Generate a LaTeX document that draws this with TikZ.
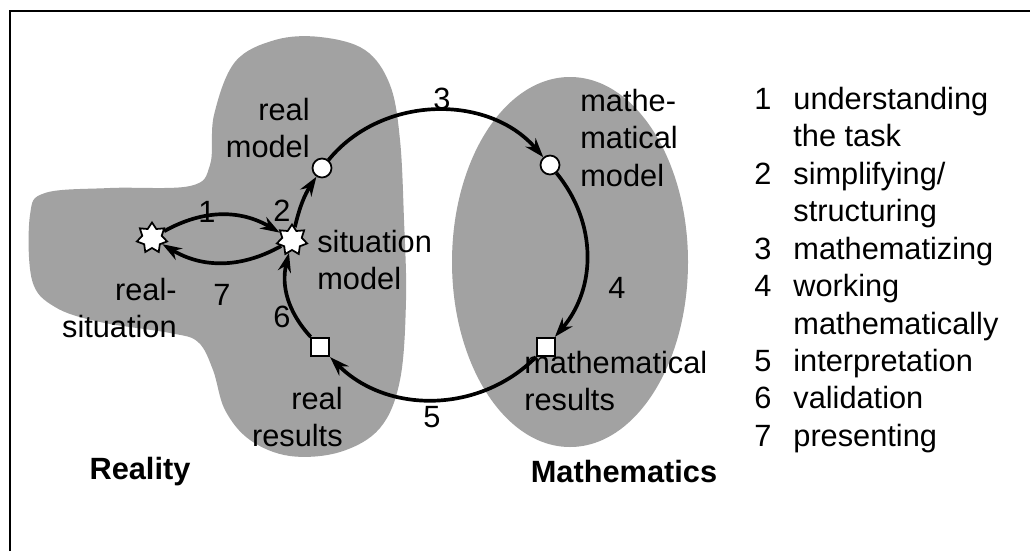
\documentclass[tikz,border=0pt]{standalone}
\usepackage{fontspec}
\setmainfont{Liberation Sans}
\usetikzlibrary{arrows.meta,shapes.geometric}
\definecolor{blobclr}{HTML}{A2A2A2}
\definecolor{inkclr}{HTML}{000000}

\begin{document}
\begin{tikzpicture}[x=0.02cm, y=-0.02cm,
  font=\fontsize{17.5}{21.3}\selectfont,
  sitstar/.style={star, star points=7, star point ratio=1.55, minimum size=0.62cm,
                  inner sep=0pt, draw=inkclr, line width=1pt, fill=white},
  modpt/.style={circle, minimum size=0.38cm, inner sep=0pt, draw=inkclr,
                line width=1pt, fill=white},
  respt/.style={rectangle, minimum size=0.37cm, inner sep=0pt, draw=inkclr,
                line width=1pt, fill=white},
  cycarr/.style={-{Stealth[length=11pt, width=7.5pt]}, line width=2.1pt, inkclr},
  lbl/.style={inner sep=0pt, text=inkclr}]

\useasboundingbox (0,0) rectangle (1030,551);

% --- the reality blob and the mathematics oval -----------------------------
\fill[blobclr] plot[smooth cycle, tension=0.6] coordinates {
  (30,215) (45,193) (110,188) (190,186) (210,165) (214,115) (235,62)
  (275,40) (320,37) (365,50) (390,85) (400,140) (404,220) (406,300)
  (400,380) (380,428) (340,452) (290,456) (250,440) (225,410) (213,370)
  (198,342) (170,333) (100,322) (55,307) (32,280)};
\fill[blobclr] (570,262) ellipse [x radius=118, y radius=185];

% --- frame (only top and left edge show) ----------------------------------
\draw[line width=1.6pt, inkclr] (10,551) -- (10,11) -- (1030,11);

% --- stations of the cycle -------------------------------------------------
\node[sitstar] (rsit) at (152,238) {};
\node[sitstar] (smod) at (292,240) {};
\node[modpt]   (rmod) at (322,168) {};
\node[modpt]   (mmod) at (550,165) {};
\node[respt]   (mres) at (546,347) {};
\node[respt]   (rres) at (320,347) {};

% --- the seven steps -------------------------------------------------------
\draw[cycarr] (rsit) to[bend left=30] (smod);  % 1
\draw[cycarr] (smod) to[bend left=10] (rmod);  % 2
\draw[cycarr] (rmod) to[bend left=50] (mmod);  % 3
\draw[cycarr] (mmod) to[bend left=40] (mres);  % 4
\draw[cycarr] (mres) to[bend left=45] (rres);  % 5
\draw[cycarr] (rres) to[bend left=28] (smod);  % 6
\draw[cycarr] (smod) to[bend left=30] (rsit);  % 7

\foreach \k/\px/\py in {1/207/212, 2/282/211, 3/442/99, 4/617/288,
                        5/432/417, 6/282/317, 7/222/295}
  \node[lbl] (num\k) at (\px,\py) {\k};

% --- station labels --------------------------------------------------------
\node[lbl, align=right, anchor=east] (rsitlbl) at (177,308) {real-\\situation};
\node[lbl, align=left, anchor=west]  (smodlbl) at (317,260) {situation\\model};
\node[lbl, align=right, anchor=east] (rmodlbl) at (310,128) {real\\model};
\node[lbl, align=left, anchor=west]  (mmodlbl) at (580,138) {mathe-\\matical\\model};
\node[lbl, align=left, anchor=west]  (mreslbl) at (524,381) {mathematical\\results};
\node[lbl, align=right, anchor=east] (rreslbl) at (343,417) {real\\results};

\node[lbl, font=\fontsize{17.5}{21.3}\selectfont\bfseries] (reality) at (140,472) {Reality};
\node[lbl, font=\fontsize{17.5}{21.3}\selectfont\bfseries] (maths) at (624,472) {Mathematics};

% --- legend ----------------------------------------------------------------
\node[lbl, anchor=north west] (legend) at (754,83) {%
  \begin{tabular}{@{}l@{\hspace{12.5pt}}l@{}}
  1 & understanding\\
    & the task\\
  2 & simplifying/\\
    & structuring\\
  3 & mathematizing\\
  4 & working\\
    & mathematically\\
  5 & interpretation\\
  6 & validation\\
  7 & presenting
  \end{tabular}};

\end{tikzpicture}
\end{document}
